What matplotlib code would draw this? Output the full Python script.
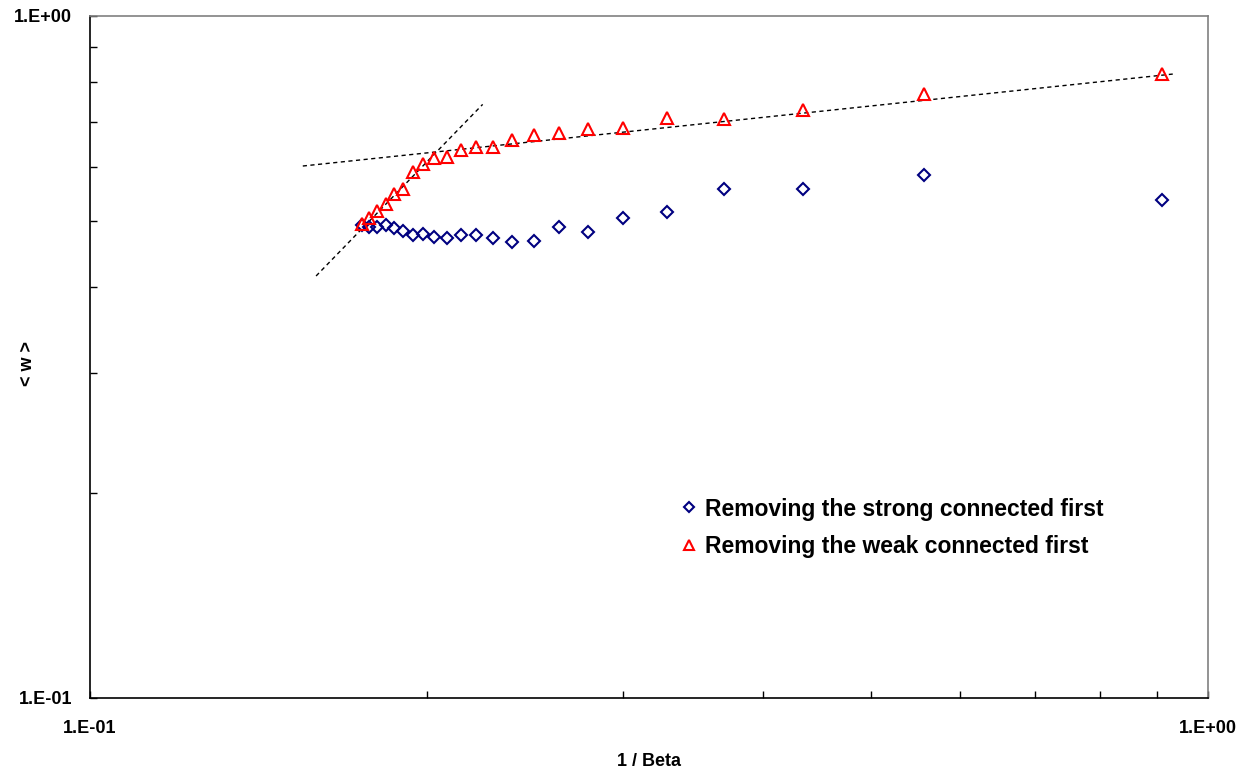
import numpy as np
import matplotlib
matplotlib.use('Agg')
import matplotlib.pyplot as plt
from matplotlib.ticker import LogLocator, FixedFormatter, FixedLocator, NullFormatter

plt.rcParams['font.family'] = ['Liberation Sans', 'DejaVu Sans']
plt.rcParams['font.weight'] = 'bold'

# datos (1/Beta, <w>)
inv_beta = [0.175, 0.1778, 0.1807, 0.1839, 0.1870, 0.1906, 0.1943, 0.1986,
            0.2032, 0.2086, 0.2146, 0.2214, 0.2292, 0.2385, 0.2495, 0.2626,
            0.2788, 0.3000, 0.3283, 0.3689, 0.4342, 0.5575, 0.9093]
w_strong = [0.494, 0.490, 0.491, 0.494, 0.489, 0.484, 0.478, 0.479,
            0.474, 0.472, 0.477, 0.478, 0.472, 0.466, 0.468, 0.490,
            0.483, 0.505, 0.516, 0.558, 0.558, 0.584, 0.537]
w_weak = [0.495, 0.506, 0.518, 0.530, 0.548, 0.558, 0.590, 0.607,
          0.620, 0.622, 0.637, 0.643, 0.643, 0.658, 0.669, 0.673,
          0.682, 0.686, 0.709, 0.707, 0.728, 0.768, 0.822]

# lineas de tendencia (extremos)
fit1_x = [0.155, 0.930]
fit1_y = [0.6026, 0.822]
fit2_x = [0.1593, 0.2245]
fit2_y = [0.4157, 0.742]

fig = plt.figure(figsize=(12.55, 7.74), dpi=100)
ax = fig.add_axes([90/1255, 1-698/774, 1118/1255, 682/774])

ax.plot(fit1_x, fit1_y, color='black', linestyle=(0, (3, 2.5)), linewidth=1.0)
ax.plot(fit2_x, fit2_y, color='black', linestyle=(0, (3, 2.5)), linewidth=1.0)

ax.plot(inv_beta, w_strong, linestyle='none', marker='D', markersize=6,
        markerfacecolor='none', markeredgecolor='#000080', markeredgewidth=1.5,
        label='Removing the strong connected first')
ax.plot(inv_beta, w_weak, linestyle='none', marker='^', markersize=8,
        markerfacecolor='none', markeredgecolor='#ff0000', markeredgewidth=1.5,
        label='Removing the weak connected first')

ax.set_xscale('log')
ax.set_yscale('log')
ax.set_xlim(0.1, 1.0)
ax.set_ylim(0.1, 1.0)

ax.xaxis.set_major_locator(FixedLocator([0.1, 1.0]))
ax.yaxis.set_major_locator(FixedLocator([0.1, 1.0]))
ax.xaxis.set_major_formatter(FixedFormatter(['1.E-01', '1.E+00']))
ax.yaxis.set_major_formatter(FixedFormatter(['1.E-01', '1.E+00']))
ax.xaxis.set_minor_locator(LogLocator(base=10, subs=np.arange(2, 10)))
ax.yaxis.set_minor_locator(LogLocator(base=10, subs=np.arange(2, 10)))
ax.xaxis.set_minor_formatter(NullFormatter())
ax.yaxis.set_minor_formatter(NullFormatter())

ax.tick_params(which='both', direction='in', length=5, width=1, color='black',
               top=False, right=False)
ax.tick_params(axis='x', which='major', pad=16, labelsize=13)
ax.tick_params(axis='y', which='major', pad=13, labelsize=13)

ax.spines['top'].set_color('#808080')
ax.spines['right'].set_color('#808080')
ax.spines['left'].set_color('black')
ax.spines['bottom'].set_color('black')
for s in ax.spines.values():
    s.set_linewidth(1.2)

ax.set_xlabel('1 / Beta', fontsize=13, fontweight='bold', va='center')
ax.set_ylabel('< w >', fontsize=13, fontweight='bold', va='center')
ax.xaxis.set_label_coords(0.5, -0.0935)
ax.yaxis.set_label_coords(-0.0555, 0.491)

leg = ax.legend(loc='center left', bbox_to_anchor=(0.5215, 0.2495), frameon=False,
                fontsize=16.5, handlelength=0.6, handletextpad=0.4,
                labelspacing=0.64, markerscale=0.9, borderaxespad=0)
for t in leg.get_texts():
    t.set_fontweight('bold')

fig.savefig('out.png', dpi=100)
